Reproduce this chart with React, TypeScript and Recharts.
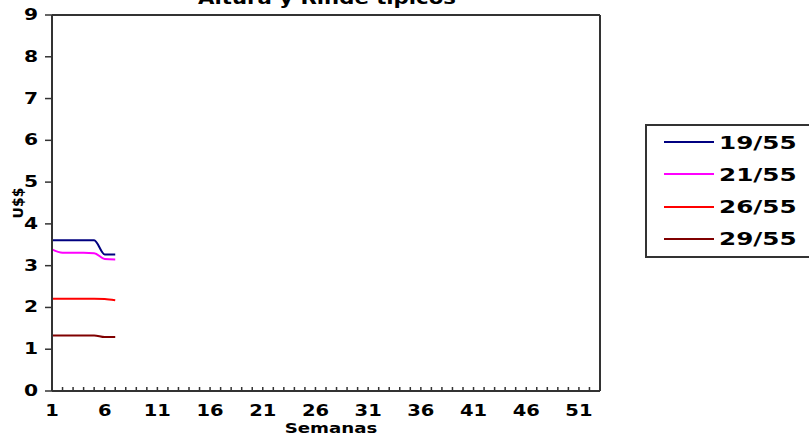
import { LineChart, Line, XAxis, YAxis, ReferenceLine, Legend } from 'recharts';

// semanas 1..53 (categorías del eje)
const weeks = [
  1, 2, 3, 4, 5, 6, 7, 8, 9, 10, 11, 12, 13, 14, 15, 16, 17, 18, 19, 20, 21, 22, 23, 24, 25, 26, 27,
  28, 29, 30, 31, 32, 33, 34, 35, 36, 37, 38, 39, 40, 41, 42, 43, 44, 45, 46, 47, 48, 49, 50, 51, 52, 53,
];

// U$$ por semana (solo hay datos para las primeras semanas)
const s1955 = [3.61, 3.61, 3.61, 3.61, 3.61, 3.27, 3.27];
const s2155 = [3.39, 3.31, 3.31, 3.31, 3.3, 3.16, 3.15];
const s2655 = [2.21, 2.21, 2.21, 2.21, 2.21, 2.2, 2.17];
const s2955 = [1.33, 1.33, 1.33, 1.33, 1.33, 1.29, 1.29];

const xTickLabels = [1, 6, 11, 16, 21, 26, 31, 36, 41, 46, 51];
const yTicks = [0, 1, 2, 3, 4, 5, 6, 7, 8, 9];

const series = [
  { key: 's1955', name: '19/55', color: '#000080', values: s1955 },
  { key: 's2155', name: '21/55', color: '#FF00FF', values: s2155 },
  { key: 's2655', name: '26/55', color: '#FF0000', values: s2655 },
  { key: 's2955', name: '29/55', color: '#800000', values: s2955 },
];

const data = weeks.map((week, i) => {
  const row: Record<string, number | null> = { week };
  series.forEach((s) => {
    row[s.key] = s.values[i] ?? null;
  });
  return row;
});

const FONT = '"DejaVu Sans", Verdana, sans-serif';
const AXIS = '#333';

const stretch = (k: number, origin = 'center') => ({
  transform: `scaleX(${k})`,
  transformBox: 'fill-box' as const,
  transformOrigin: origin,
});

// eslint-disable-next-line @typescript-eslint/no-explicit-any
function WeekTick({ x, y, payload }: any) {
  const labeled = xTickLabels.includes(payload.value);
  return (
    <g>
      <line x1={x} x2={x} y1={y} y2={y - 4} stroke={AXIS} strokeWidth={1.5} />
      {labeled && (
        <text
          x={x}
          y={y + 25}
          textAnchor="middle"
          fontFamily={FONT}
          fontWeight="bold"
          fontSize={15}
          fill="#000"
          style={stretch(1.3)}
        >
          {payload.value}
        </text>
      )}
    </g>
  );
}

// eslint-disable-next-line @typescript-eslint/no-explicit-any
function ValueTick({ x, y, payload }: any) {
  return (
    <text
      x={x}
      y={y + 5}
      textAnchor="end"
      fontFamily={FONT}
      fontWeight="bold"
      fontSize={15}
      fill="#000"
      style={stretch(1.35, 'right center')}
    >
      {payload.value}
    </text>
  );
}

// eslint-disable-next-line @typescript-eslint/no-explicit-any
function LegendBox({ payload }: any) {
  return (
    <div
      style={{
        position: 'relative',
        width: 200,
        height: 130,
        border: `2px solid ${AXIS}`,
        background: '#fff',
        fontFamily: FONT,
      }}
    >
      {/* eslint-disable-next-line @typescript-eslint/no-explicit-any */}
      {(payload || []).map((entry: any, i: number) => (
        <div
          key={entry.value}
          style={{
            position: 'absolute',
            left: 17,
            top: 4 + i * 32.3,
            height: 24,
            display: 'flex',
            alignItems: 'center',
          }}
        >
          <svg width={50} height={4}>
            <line x1={0} x2={50} y1={2} y2={2} stroke={entry.color} strokeWidth={2} />
          </svg>
          <span
            style={{
              marginLeft: 5,
              fontSize: 18,
              fontWeight: 'bold',
              color: '#000',
              display: 'inline-block',
              transform: 'scaleX(1.37)',
              transformOrigin: 'left center',
            }}
          >
            {entry.value}
          </span>
        </div>
      ))}
    </div>
  );
}

// eslint-disable-next-line @typescript-eslint/no-explicit-any
const yLabel = ({ viewBox }: any) => {
  const cx = viewBox.x + 6;
  const cy = viewBox.y + viewBox.height / 2;
  return (
    <text
      x={cx}
      y={cy}
      transform={`rotate(-90, ${cx}, ${cy})`}
      textAnchor="middle"
      dominantBaseline="central"
      fontFamily={FONT}
      fontWeight="bold"
      fontSize={14}
      fill="#000"
    >
      U$$
    </text>
  );
};

// eslint-disable-next-line @typescript-eslint/no-explicit-any
const xLabel = ({ viewBox }: any) => (
  <text
    x={viewBox.x + viewBox.width / 2 + 5}
    y={viewBox.y + 42}
    textAnchor="middle"
    fontFamily={FONT}
    fontWeight="bold"
    fontSize={14}
    fill="#000"
    style={stretch(1.3)}
  >
    Semanas
  </text>
);

export default function App() {
  return (
    <div style={{ position: 'absolute', left: 0, top: 0, width: 809, height: 437, overflow: 'hidden', background: '#fff' }}>
      <LineChart width={809} height={437} data={data} margin={{ top: 15, right: 209, bottom: 0, left: 12 }}>
        <text
          x={327}
          y={4}
          textAnchor="middle"
          fontFamily={FONT}
          fontWeight="bold"
          fontSize={18}
          fill="#000"
          style={stretch(1.18)}
        >
          Altura y Rinde típicos
        </text>
        <XAxis
          dataKey="week"
          type="category"
          interval={0}
          tickSize={0}
          tickMargin={0}
          tick={<WeekTick />}
          axisLine={{ stroke: AXIS, strokeWidth: 2 }}
          height={46}
          label={{ content: xLabel }}
        />
        <YAxis
          type="number"
          domain={[0, 9]}
          ticks={yTicks}
          interval={0}
          width={40}
          tickSize={7}
          tickMargin={7}
          tick={<ValueTick />}
          tickLine={{ stroke: AXIS, strokeWidth: 1.5 }}
          axisLine={{ stroke: AXIS, strokeWidth: 2 }}
          label={{ content: yLabel }}
        />
        <ReferenceLine y={9} stroke={AXIS} strokeWidth={2} />
        <ReferenceLine x={53} stroke={AXIS} strokeWidth={2} />
        <Legend
          layout="vertical"
          align="center"
          verticalAlign="middle"
          content={<LegendBox />}
          wrapperStyle={{ left: 645, top: 124, width: 200, height: 134 }}
        />
        {series.map((s) => (
          <Line
            key={s.key}
            type="monotone"
            dataKey={s.key}
            name={s.name}
            stroke={s.color}
            strokeWidth={2}
            dot={false}
            activeDot={false}
            connectNulls={false}
            isAnimationActive={false}
          />
        ))}
      </LineChart>
    </div>
  );
}
